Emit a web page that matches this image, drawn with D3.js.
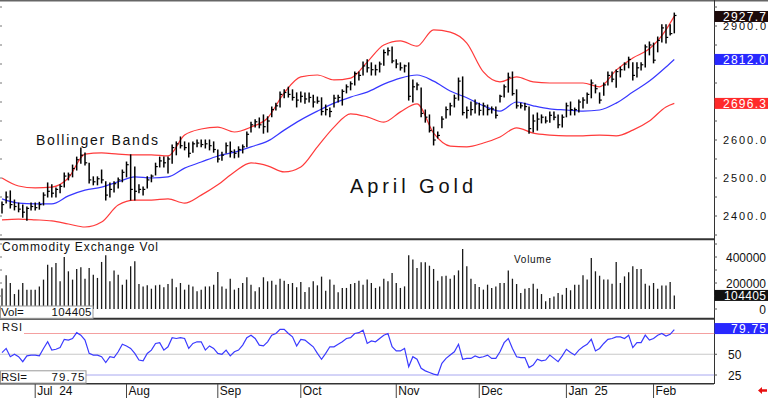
<!DOCTYPE html>
<html><head><meta charset="utf-8">
<script src="https://cdn.jsdelivr.net/npm/d3@7"></script>
<style>
html,body{margin:0;padding:0;background:#fff;}
svg{display:block;font-family:"Liberation Sans",Arial,sans-serif;}
</style></head><body>
<svg id="c" width="768" height="398"></svg>
<script>
// ---- DATA (daily bars, index 0..162) ----
const highs = [2437,2463,2466,2442,2434,2429,2424,2434,2434,2436,
2461,2487,2482,2474,2482,2513,2513,2534,2555,2579,
2566,2539,2503,2503,2521,2490,2487,2490,2500,2521,
2542,2561,2529,2482,2476,2503,2508,2539,2555,2555,
2555,2587,2595,2608,2595,2592,2595,2600,2600,2600,
2600,2595,2574,2568,2592,2595,2574,2582,2587,2621,
2647,2653,2658,2666,2661,2687,2697,2726,2732,2739,
2732,2724,2726,2724,2724,2718,2713,2711,2692,2684,
2718,2718,2732,2745,2753,2779,2779,2805,2811,2803,
2797,2805,2837,2842,2845,2811,2803,2797,2803,2758,
2750,2737,2679,2666,2634,2621,2661,2687,2697,2718,
2763,2766,2687,2700,2705,2697,2697,2692,2687,2687,
2718,2745,2776,2779,2732,2697,2697,2687,2666,2671,
2666,2661,2674,2674,2666,2666,2697,2700,2684,2705,
2711,2724,2758,2745,2724,2750,2779,2779,2784,2792,
2803,2818,2803,2803,2803,2850,2858,2855,2871,2903,
2903,2903,2934];
const lows = [2408,2434,2421,2416,2411,2397,2389,2416,2416,2418,
2429,2450,2450,2450,2461,2476,2495,2503,2521,2539,
2534,2487,2482,2482,2487,2442,2450,2463,2474,2490,
2503,2442,2442,2461,2455,2474,2490,2508,2529,2529,
2513,2539,2561,2579,2574,2555,2568,2582,2582,2579,
2574,2568,2542,2547,2566,2555,2553,2555,2566,2582,
2621,2634,2632,2618,2621,2661,2679,2687,2711,2713,
2705,2687,2700,2697,2700,2687,2697,2666,2666,2661,
2687,2700,2692,2724,2732,2745,2758,2771,2779,2771,
2771,2779,2797,2824,2803,2790,2784,2779,2705,2700,
2732,2661,2647,2621,2587,2605,2632,2658,2666,2687,
2705,2666,2658,2666,2671,2666,2666,2666,2671,2658,
2700,2713,2726,2718,2684,2684,2679,2618,2621,2626,
2645,2645,2647,2653,2632,2634,2661,2666,2666,2674,
2684,2697,2711,2724,2697,2718,2745,2753,2739,2766,
2784,2790,2758,2766,2784,2792,2824,2803,2832,2858,
2855,2876,2882];
const closes = [2430,2450,2430,2425,2418,2410,2420,2425,2422,2430,
2455,2465,2460,2470,2478,2505,2508,2525,2548,2560,
2540,2495,2490,2498,2495,2455,2470,2485,2495,2515,
2535,2470,2465,2470,2470,2495,2505,2530,2545,2540,
2550,2580,2590,2585,2580,2565,2590,2592,2588,2590,
2585,2575,2550,2560,2585,2570,2565,2575,2582,2615,
2640,2648,2640,2635,2650,2680,2690,2720,2725,2720,
2712,2705,2715,2708,2712,2700,2702,2675,2680,2675,
2710,2712,2728,2740,2748,2775,2770,2795,2790,2785,
2785,2800,2830,2835,2808,2800,2790,2795,2715,2740,
2745,2670,2660,2625,2600,2612,2655,2680,2690,2710,
2755,2672,2678,2680,2695,2678,2690,2680,2682,2665,
2715,2740,2765,2722,2690,2690,2688,2630,2650,2655,
2660,2650,2665,2660,2640,2660,2690,2680,2680,2700,
2705,2720,2750,2735,2705,2745,2770,2760,2780,2785,
2800,2812,2770,2790,2798,2845,2850,2810,2862,2895,
2870,2880,2927.7];
const volumes = [157000,259000,200000,115000,149000,200000,149000,149000,149000,174000,
226000,341000,321000,354000,213000,400000,290000,226000,308000,321000,
233000,315000,264000,239000,362000,413000,213000,297000,264000,187000,
226000,328000,367000,192000,174000,182000,156000,182000,187000,167000,
192000,233000,167000,200000,149000,187000,174000,136000,149000,174000,
174000,187000,285000,174000,156000,233000,149000,162000,200000,244000,
187000,136000,167000,244000,213000,218000,187000,233000,218000,192000,
200000,167000,208000,131000,167000,213000,182000,249000,141000,226000,
187000,128000,162000,162000,192000,200000,218000,187000,226000,200000,
162000,174000,233000,213000,277000,200000,162000,174000,413000,380000,
315000,359000,359000,333000,308000,218000,251000,256000,233000,259000,
297000,462000,328000,233000,192000,169000,149000,187000,162000,174000,
200000,200000,297000,233000,192000,123000,156000,162000,195000,156000,
115000,59000,85000,97000,123000,110000,162000,144000,187000,187000,
259000,226000,392000,290000,256000,226000,226000,195000,362000,200000,
251000,282000,328000,308000,308000,195000,180000,200000,156000,180000,
180000,208000,104405];
const rsi = [52,57,47,50,47,41,48,49,49,48,
57,65,55,56,58,68,67,69,76,73,
67,51,49,49,47,40,47,46,53,62,
60,57,51,43,42,51,55,63,64,55,
59,70,69,70,69,57,63,65,65,55,
60,57,51,50,55,48,53,55,61,70,
73,69,61,60,65,73,75,80,80,75,
71,60,68,67,63,59,51,44,51,59,
59,62,65,69,70,75,76,79,63,66,
65,69,73,75,59,54,54,57,35,47,
44,33,30,28,26,25,39,45,49,53,
62,44,45,45,48,46,47,49,45,45,
53,64,69,57,47,46,46,34,37,44,
42,43,49,45,41,48,56,52,49,55,
59,62,68,54,57,63,68,69,71,71,
69,73,58,64,64,73,67,69,73,75,
72,74,79.75];
// Bollinger bands, read every 4 bars
const bandIdx = [0,4,8,12,16,20,24,28,32,36,40,44,48,52,56,60,64,68,72,76,80,84,88,92,96,100,104,108,112,116,120,124,128,132,136,140,144,148,152,156,160,162];
const bandUpper = [2500,2479,2474,2476,2500,2563,2566,2563,2561,2561,2558,2613,2629,2634,2621,2634,2658,2724,2766,2771,2758,2763,2805,2850,2861,2847,2890,2884,2855,2779,2753,2766,2753,2750,2750,2750,2740,2784,2816,2840,2890,2926];
const bandMid = [2445,2434,2432,2432,2453,2468,2476,2490,2503,2500,2503,2526,2542,2558,2568,2582,2597,2626,2653,2676,2697,2713,2726,2747,2763,2771,2755,2729,2711,2690,2676,2700,2690,2682,2679,2676,2679,2697,2726,2755,2792,2812];
const bandLower = [2390,2392,2390,2387,2379,2371,2384,2429,2442,2442,2445,2434,2455,2482,2516,2540,2532,2516,2529,2582,2634,2669,2661,2647,2674,2695,2618,2584,2582,2592,2608,2632,2618,2613,2611,2611,2613,2611,2626,2650,2687,2696.3];
const monthIdx = [8,30,52,72,95,115,136,157];
const monthLabels = ["Jul  24","Aug","Sep","Oct","Nov","Dec","Jan  25","Feb"];
const priceTicks = [2400,2500,2600,2700,2800,2900];
const volTicks = [0,200000,400000];
const rsiTicks = [25,50,75];
const lastPrice = 2927.7, lastMid = 2812.0, lastLower = 2696.3, lastVol = 104405, lastRsi = 79.75;

// ---- DRAW ----
const svg = d3.select('#c');
const AX = 714;
const x = d3.scaleLinear().domain([0,162]).range([2, 674.3]);
const yP = d3.scaleLinear().domain([2400,2900]).range([216,26]);
const yV = d3.scaleLinear().domain([0,400000]).range([309,257]);
const yR = d3.scaleLinear().domain([25,75]).range([375,333.5]);

svg.append('rect').attr('width',768).attr('height',398).attr('fill','#fff');
const defs = svg.append('defs');
defs.append('clipPath').attr('id','cp').append('rect').attr('x',0).attr('y',2).attr('width',AX).attr('height',236);
defs.append('clipPath').attr('id','cr').append('rect').attr('x',0).attr('y',320).attr('width',AX).attr('height',63);

// RSI reference lines
const g3 = svg.append('g');
g3.append('line').attr('x1',24).attr('x2',AX).attr('y1',yR(75)).attr('y2',yR(75)).attr('stroke','#f4a0a0').attr('stroke-width',1);
g3.append('line').attr('x1',0).attr('x2',AX).attr('y1',yR(50)).attr('y2',yR(50)).attr('stroke','#c8c8c8').attr('stroke-width',1.2);
g3.append('line').attr('x1',0).attr('x2',AX).attr('y1',yR(25)).attr('y2',yR(25)).attr('stroke','#a8a8f0').attr('stroke-width',1);

// Bands
const gp = svg.append('g').attr('clip-path','url(#cp)');
const bl = (arr)=>d3.line().x((d,i)=>x(bandIdx[i])).y(d=>yP(d)).curve(d3.curveMonotoneX)(arr);
gp.append('path').attr('d',bl(bandUpper)).attr('fill','none').attr('stroke','#ff3b3b').attr('stroke-width',1.2);
gp.append('path').attr('d',bl(bandLower)).attr('fill','none').attr('stroke','#ff3b3b').attr('stroke-width',1.2);
gp.append('path').attr('d',bl(bandMid)).attr('fill','none').attr('stroke','#3838ff').attr('stroke-width',1.2);

// Price bars (HLC)
const bars = gp.selectAll('g.bar').data(highs.map((h,i)=>({i,h,l:lows[i],c:closes[i]}))).enter().append('g');
bars.append('line').attr('x1',d=>x(d.i)).attr('x2',d=>x(d.i)).attr('y1',d=>yP(d.h)-0.5).attr('y2',d=>yP(d.l)+0.5).attr('stroke','#000').attr('stroke-width',1.5);
bars.append('line').attr('x1',d=>x(d.i)).attr('x2',d=>x(d.i)+2.2).attr('y1',d=>yP(d.c)).attr('y2',d=>yP(d.c)).attr('stroke','#000').attr('stroke-width',1.2);

// Volume
const gv = svg.append('g');
gv.selectAll('line').data(volumes).enter().append('line')
  .attr('x1',(d,i)=>x(i)).attr('x2',(d,i)=>x(i)).attr('y1',yV(0)).attr('y2',d=>yV(d))
  .attr('stroke','#1a1a1a').attr('stroke-width',1.3);

// RSI line
svg.append('g').attr('clip-path','url(#cr)').append('path')
  .attr('d', d3.line().x((d,i)=>x(i)).y(d=>yR(d))(rsi))
  .attr('fill','none').attr('stroke','#3a3aff').attr('stroke-width',1.2);

// Frames
const fr = svg.append('g').attr('stroke','#333');
fr.append('line').attr('x1',0).attr('x2',768).attr('y1',0.8).attr('y2',0.8).attr('stroke','#666').attr('stroke-width',1.6);
fr.append('line').attr('x1',0).attr('x2',AX).attr('y1',239.2).attr('y2',239.2).attr('stroke-width',2);
fr.append('line').attr('x1',0).attr('x2',AX).attr('y1',318.8).attr('y2',318.8).attr('stroke-width',2);
fr.append('line').attr('x1',0).attr('x2',AX).attr('y1',383.7).attr('y2',383.7).attr('stroke-width',1.5);
fr.append('line').attr('x1',AX+0.5).attr('x2',AX+0.5).attr('y1',0).attr('y2',384).attr('stroke-width',1);

// Price minor ticks (right and left)
const minor = d3.range(2350,2951,50);
svg.append('g').selectAll('line').data(minor).enter().append('line')
  .attr('x1',AX).attr('x2',AX+3).attr('y1',d=>yP(d)).attr('y2',d=>yP(d)).attr('stroke','#555');
svg.append('g').selectAll('line').data(minor).enter().append('line')
  .attr('x1',0).attr('x2',2).attr('y1',d=>yP(d)).attr('y2',d=>yP(d)).attr('stroke','#777');
const vminor = d3.range(0,500001,100000);
svg.append('g').selectAll('line').data(vminor).enter().append('line')
  .attr('x1',AX).attr('x2',AX+3).attr('y1',d=>yV(d)).attr('y2',d=>yV(d)).attr('stroke','#555');
svg.append('g').selectAll('line').data(vminor).enter().append('line')
  .attr('x1',0).attr('x2',2).attr('y1',d=>yV(d)).attr('y2',d=>yV(d)).attr('stroke','#777');
svg.append('g').selectAll('line').data(rsiTicks).enter().append('line')
  .attr('x1',AX).attr('x2',AX+3).attr('y1',d=>yR(d)).attr('y2',d=>yR(d)).attr('stroke','#555');

// Value boxes (positions from the scales); tick labels hidden under a box are not drawn,
// as in the reference where the boxes cover them
const boxes = [
  {y: yP(lastPrice)+1, fill:'#1c0a0a', label:lastPrice.toFixed(1), len:43},
  {y: yP(lastMid), fill:'#2828ff', label:lastMid.toFixed(1), len:43},
  {y: yP(lastLower), fill:'#ff2a2a', label:lastLower.toFixed(1), len:43},
  {y: yV(lastVol), fill:'#111', label:String(lastVol), len:42},
  {y: yR(lastRsi)-1, fill:'#2828ff', label:lastRsi.toFixed(2), len:35}
];
const covered = y => boxes.some(b => Math.abs(b.y - y) < 7);

// Right labels
const tl = svg.append('g').attr('font-size',11).attr('fill','#111');
tl.selectAll('text.p').data(priceTicks.filter(d=>!covered(yP(d)))).enter().append('text')
  .attr('x',723).attr('y',d=>yP(d)+4).attr('textLength',43).attr('lengthAdjust','spacing')
  .text(d=>d.toFixed(1));
tl.selectAll('text.v').data(volTicks.filter(d=>!covered(yV(d)))).enter().append('text')
  .attr('x',766).attr('y',d=>yV(d)+4.5).attr('text-anchor','end').attr('font-size',12)
  .text(d=>String(d));
tl.selectAll('text.r').data(rsiTicks.filter(d=>!covered(yR(d)))).enter().append('text')
  .attr('x',728).attr('y',d=>yR(d)+4.5).attr('font-size',12)
  .text(d=>String(d));

boxes.forEach(b=>{
  const g = svg.append('g');
  g.append('rect').attr('x',AX+0.5).attr('y',b.y-5.5).attr('width',768-AX).attr('height',11).attr('fill',b.fill);
  g.append('text').attr('x',766).attr('y',b.y+4.2).attr('text-anchor','end').attr('fill','#fff')
    .attr('font-size',12).attr('textLength',b.len).attr('lengthAdjust','spacing').text(b.label);
});

// Titles
const tt = svg.append('g').attr('fill','#111');
tt.append('text').attr('x',36).attr('y',145).attr('font-size',14).attr('textLength',122).attr('lengthAdjust','spacing').text('Bollinger Bands');
tt.append('text').attr('x',350).attr('y',193).attr('font-size',20).attr('textLength',123).attr('lengthAdjust','spacing').text('April Gold');
tt.append('text').attr('x',2).attr('y',250.5).attr('font-size',12).attr('textLength',156).attr('lengthAdjust','spacing').text('Commodity Exchange Vol');
tt.append('text').attr('x',514).attr('y',263).attr('font-size',10).attr('textLength',37).attr('lengthAdjust','spacing').text('Volume');
tt.append('text').attr('x',2).attr('y',331).attr('font-size',11).attr('textLength',20).attr('lengthAdjust','spacing').text('RSI');

// Vol= and RSI= boxes
function infoBox(y0, w, lab, val, vlen){
  const g = svg.append('g');
  g.append('rect').attr('x',0.5).attr('y',y0).attr('width',w).attr('height',12.3).attr('fill','#fff').attr('stroke','#999');
  g.append('text').attr('x',1).attr('y',y0+10).attr('font-size',11.5).attr('fill','#111').text(lab);
  g.append('text').attr('x',w-1).attr('y',y0+10).attr('font-size',11.5).attr('text-anchor','end').attr('fill','#111')
    .attr('textLength',vlen).attr('lengthAdjust','spacing').text(val);
}
infoBox(306, 92.5, 'Vol=', String(lastVol), 40);
infoBox(370.8, 85.5, 'RSI=', lastRsi.toFixed(2), 33);

// Month axis
const ma = svg.append('g');
ma.selectAll('line').data(monthIdx).enter().append('line')
  .attr('x1',d=>x(d)).attr('x2',d=>x(d)).attr('y1',384).attr('y2',398).attr('stroke','#444');
ma.selectAll('text').data(monthIdx).enter().append('text')
  .attr('x',d=>x(d)+2).attr('y',395).attr('font-size',12).attr('fill','#111')
  .style('white-space','pre').attr('xml:space','preserve')
  .text((d,i)=>monthLabels[i]);

// red arrow
svg.append('path').attr('d','M758,390.5 L762,387 L762,389.3 L767,389.3 L767,391.7 L762,391.7 L762,394 Z').attr('fill','#e81010');
</script>
</body></html>
